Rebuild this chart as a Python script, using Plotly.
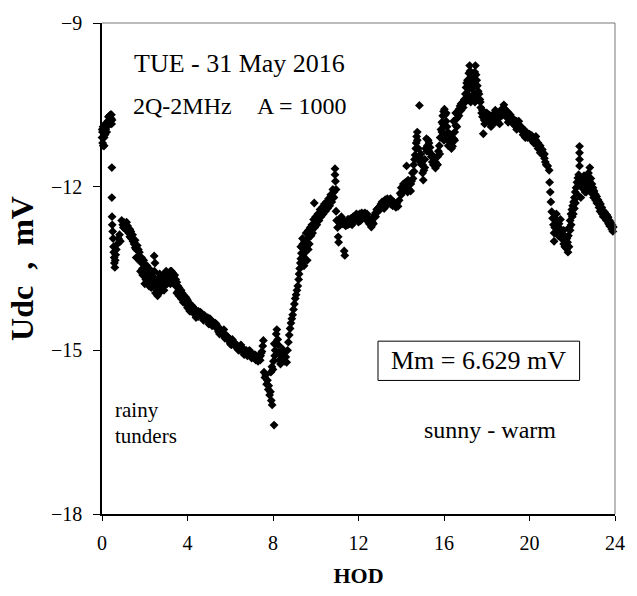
import plotly.graph_objects as go

# Udc readings (hour of day, mV), grouped by part of the day
night = [(0.02, -11.0), (0.03, -11.2), (0.05, -11.1), (0.06, -11.25), (0.08, -10.95), (0.1, -11.1),
         (0.12, -10.9), (0.14, -11.05), (0.17, -10.95), (0.2, -10.85), (0.24, -10.9), (0.27, -10.8),
         (0.3, -10.72), (0.33, -10.85), (0.36, -10.7), (0.4, -10.68), (0.43, -10.75), (0.45, -10.85),
         (0.47, -10.78), (0.46, -11.65), (0.46, -12.2), (0.47, -12.55), (0.48, -12.7), (0.5, -12.82),
         (0.52, -12.95), (0.54, -13.1), (0.55, -13.2), (0.57, -13.3), (0.58, -13.4), (0.6, -13.48),
         (0.62, -13.35), (0.64, -13.25), (0.67, -13.15), (0.72, -13.05), (0.77, -12.95), (0.82, -12.88),
         (0.86, -13.0), (0.05, -10.9), (0.1, -11.25), (0.15, -10.85), (0.22, -11.0), (0.3, -10.85),
         (0.38, -10.8), (0.44, -10.68), (0.0, -11.1), (0.01, -10.95)]

dawn = [(0.92, -12.62), (0.97, -12.7), (1.05, -12.66), (1.1, -12.78), (1.2, -12.72), (1.25, -12.85),
        (1.3, -12.78), (1.38, -12.95), (1.43, -12.88), (1.5, -13.05), (1.55, -12.98), (1.6, -13.15),
        (1.65, -13.08), (1.7, -13.28), (1.75, -13.2), (1.8, -13.38), (1.85, -13.3), (1.9, -13.5),
        (1.95, -13.42), (2.0, -13.6), (2.05, -13.7), (2.1, -13.55), (2.15, -13.75), (2.2, -13.5),
        (2.25, -13.62), (2.3, -13.72), (2.35, -13.58), (2.4, -13.65), (2.44, -13.27), (2.48, -13.4),
        (2.5, -13.78), (2.55, -13.9), (2.6, -13.7), (2.65, -13.95), (2.7, -13.8), (2.75, -13.65),
        (2.8, -13.88), (2.85, -13.7), (2.9, -13.6), (2.95, -13.78), (3.0, -13.65), (3.05, -13.58),
        (3.1, -13.72), (3.15, -13.6), (3.2, -13.55), (3.25, -13.68), (3.3, -13.58), (3.35, -13.65),
        (3.4, -13.72), (3.45, -13.82), (3.5, -13.75), (3.55, -13.92), (3.6, -13.85), (3.65, -14.0),
        (3.7, -13.9), (3.75, -14.05), (3.8, -13.98), (3.85, -14.1), (3.9, -14.02), (3.95, -14.15),
        (4.0, -14.08), (4.05, -14.2), (4.1, -14.14), (4.18, -14.25), (4.25, -14.2), (4.3, -14.3),
        (4.38, -14.26), (4.45, -14.33), (4.5, -14.28), (4.58, -14.36), (4.65, -14.32), (4.72, -14.4),
        (4.8, -14.36), (4.88, -14.44), (1.6, -13.3), (1.8, -13.55), (2.0, -13.78), (2.3, -13.85),
        (2.6, -14.0), (2.9, -13.9), (3.2, -13.78), (3.5, -13.95), (3.8, -14.12), (4.1, -14.28),
        (4.4, -14.4), (1.3, -12.92), (2.1, -13.45), (2.7, -13.6), (3.0, -13.55),
        (1.0, -12.75), (1.15, -12.65), (1.35, -12.82), (1.45, -13.0), (1.55, -13.12), (1.7, -13.15),
        (1.75, -13.35), (1.9, -13.62), (1.95, -13.35), (2.05, -13.52), (2.15, -13.6), (2.2, -13.82),
        (2.35, -13.8), (2.45, -13.55), (2.5, -13.95), (2.55, -13.75), (2.65, -13.82), (2.75, -13.92),
        (2.8, -13.72), (2.85, -13.85), (2.95, -13.62), (3.05, -13.78), (3.15, -13.7), (3.25, -13.55),
        (3.3, -13.75), (3.4, -13.62), (3.45, -13.7), (3.55, -13.82), (3.6, -14.0), (3.7, -14.05),
        (3.75, -13.95), (3.85, -14.02), (3.95, -14.05), (4.0, -14.22), (4.15, -14.28), (4.2, -14.18),
        (4.35, -14.35), (4.5, -14.38), (4.6, -14.3), (4.75, -14.45), (4.85, -14.4)]

morning = [(4.95, -14.4), (5.02, -14.47), (5.1, -14.45), (5.18, -14.52), (5.25, -14.5), (5.32, -14.58),
           (5.4, -14.56), (5.48, -14.64), (5.55, -14.62), (5.62, -14.7), (5.7, -14.68), (5.78, -14.76),
           (5.85, -14.74), (5.92, -14.82), (6.0, -14.8), (6.08, -14.87), (6.15, -14.85), (6.22, -14.92),
           (6.3, -14.9), (6.38, -14.96), (6.45, -14.94), (6.52, -15.0), (6.6, -14.97), (6.68, -15.04),
           (6.75, -15.0), (6.82, -15.06), (6.9, -15.04), (6.98, -15.1), (7.05, -15.07), (7.12, -15.13),
           (7.2, -15.1), (7.28, -15.16), (7.35, -15.12), (7.42, -15.1), (7.48, -15.02), (7.52, -14.92),
           (7.55, -14.82), (5.3, -14.5), (5.7, -14.62), (6.1, -14.8), (6.5, -14.9), (6.9, -15.0),
           (5.0, -14.52), (5.5, -14.7), (6.0, -14.88), (6.4, -15.0), (6.8, -15.1), (7.2, -15.18),
           (5.05, -14.42), (5.15, -14.55), (5.35, -14.52), (5.45, -14.66), (5.6, -14.65), (5.75, -14.78),
           (5.9, -14.76), (6.05, -14.9), (6.2, -14.86), (6.35, -14.98), (6.55, -14.95), (6.65, -15.08),
           (6.85, -15.02), (7.0, -15.14), (7.15, -15.08), (7.3, -15.2), (7.4, -15.18), (7.45, -15.05)]

dip = [(7.58, -15.4), (7.62, -15.5), (7.66, -15.45), (7.7, -15.62), (7.74, -15.55), (7.78, -15.72),
       (7.8, -15.65), (7.84, -15.82), (7.88, -15.76), (7.92, -15.92), (7.96, -16.0), (8.05, -16.37),
       (7.9, -15.4), (7.95, -15.3), (8.0, -15.35), (8.02, -15.2), (8.08, -15.1), (8.1, -15.0),
       (8.06, -14.88), (8.15, -14.7), (8.18, -14.62), (8.22, -14.8), (8.25, -14.9), (8.28, -15.05),
       (8.3, -15.18), (8.35, -15.25), (8.4, -15.1), (8.45, -14.98), (8.5, -15.05), (8.55, -15.2),
       (8.6, -15.12), (8.64, -15.22), (8.68, -15.0), (8.72, -14.85), (8.76, -14.72), (8.8, -14.6),
       (8.84, -14.5), (8.88, -14.42), (8.92, -14.35), (8.96, -14.25), (9.0, -14.15), (9.04, -14.05),
       (9.08, -13.98), (9.12, -13.9), (9.16, -13.82), (9.2, -13.7), (9.22, -13.6), (9.25, -13.5),
       (9.28, -13.4), (9.3, -13.32), (9.33, -13.22), (9.36, -13.12), (9.4, -13.05)]

late_morning = [(9.3, -13.1), (9.35, -13.4), (9.38, -12.95), (9.42, -13.25), (9.45, -13.45), (9.48, -13.0),
                (9.5, -13.2), (9.55, -12.85), (9.58, -13.1), (9.6, -13.35), (9.63, -12.95), (9.66, -12.8),
                (9.7, -13.05), (9.74, -12.75), (9.78, -12.9), (9.82, -12.7), (9.85, -12.85), (9.9, -12.6),
                (9.93, -12.3), (9.95, -12.75), (10.0, -12.55), (10.05, -12.7), (10.1, -12.5), (10.15, -12.62),
                (10.2, -12.42), (10.25, -12.55), (10.3, -12.38), (10.35, -12.5), (10.4, -12.32), (10.45, -12.45),
                (10.5, -12.28), (10.55, -12.4), (10.6, -12.22), (10.65, -12.35), (10.7, -12.15), (10.75, -12.28),
                (10.8, -12.05), (10.85, -12.2), (10.9, -11.67), (10.9, -11.78), (10.92, -11.9), (10.95, -12.05),
                (10.95, -12.45), (10.98, -12.62), (11.02, -12.75), (11.05, -12.92), (11.07, -13.02), (11.1, -12.6),
                (11.15, -12.7), (11.2, -12.55), (11.25, -12.68), (11.3, -12.62), (11.33, -13.18), (11.36, -13.26),
                (11.4, -12.72), (11.45, -12.65), (11.5, -12.7), (11.55, -12.6), (11.6, -12.68), (11.65, -12.58),
                (11.7, -12.64), (11.75, -12.55), (11.8, -12.62), (11.85, -12.55), (11.9, -12.6), (11.95, -12.52),
                (12.0, -12.58), (12.05, -12.5), (12.1, -12.56), (12.15, -12.48), (12.2, -12.55), (12.25, -12.5),
                (12.3, -12.58), (12.35, -12.52), (12.4, -12.62), (12.45, -12.58), (12.5, -12.68), (12.55, -12.62),
                (12.6, -12.74), (12.65, -12.65), (12.7, -12.58), (12.75, -12.52), (12.8, -12.48), (12.85, -12.42),
                (12.9, -12.46), (12.95, -12.38), (13.0, -12.42), (13.05, -12.32), (13.1, -12.38), (13.15, -12.28),
                (13.2, -12.33), (13.25, -12.24), (13.3, -12.3), (13.35, -12.22), (13.4, -12.28), (13.45, -12.24),
                (13.5, -12.32), (13.55, -12.26), (13.6, -12.35), (13.65, -12.28),
                (11.2, -12.65), (11.5, -12.6), (11.7, -12.7), (11.9, -12.5), (12.1, -12.62), (12.3, -12.48),
                (12.5, -12.58), (12.6, -12.65), (12.7, -12.68), (12.9, -12.4), (13.1, -12.28), (13.3, -12.35),
                (13.5, -12.22), (13.6, -12.28), (12.0, -12.65), (12.4, -12.5), (12.8, -12.55), (13.2, -12.4),
                (9.45, -13.3), (9.55, -13.05), (9.65, -13.15), (9.7, -12.85), (9.8, -12.8), (9.9, -12.75),
                (10.0, -12.65), (10.1, -12.6), (10.2, -12.55), (10.3, -12.45), (10.4, -12.42), (10.5, -12.38),
                (10.6, -12.32), (10.7, -12.25), (10.8, -12.18), (10.85, -12.1)]

noon = [(13.7, -12.32), (13.75, -12.38), (13.8, -12.3), (13.85, -12.36), (13.9, -12.25), (13.95, -12.12),
        (14.0, -12.02), (14.05, -12.1), (14.1, -11.95), (14.15, -12.05), (14.2, -11.92), (14.25, -11.62),
        (14.28, -12.0), (14.32, -11.88), (14.36, -12.05), (14.4, -11.95), (14.44, -12.08), (14.48, -11.9),
        (14.52, -11.75), (14.55, -11.85), (14.58, -11.6), (14.62, -11.5), (14.65, -11.42), (14.68, -11.3),
        (14.7, -11.2), (14.72, -11.08), (14.75, -11.0), (14.85, -10.51), (14.8, -11.3), (14.85, -11.45),
        (14.88, -11.55), (14.92, -11.4), (14.95, -11.6), (15.0, -11.75), (15.03, -11.88), (15.06, -11.7),
        (15.1, -11.5), (15.14, -11.3), (15.18, -11.12), (15.22, -11.25), (15.26, -11.15), (15.3, -11.35),
        (15.35, -11.28), (15.4, -11.45), (15.45, -11.55), (15.5, -11.6), (15.55, -11.5), (15.6, -11.66),
        (15.65, -11.58), (15.7, -11.45), (15.74, -11.35), (15.78, -11.25), (15.82, -11.1), (15.86, -10.95),
        (15.9, -10.82), (15.94, -10.7), (15.98, -10.62), (16.02, -10.58), (16.06, -10.68), (16.1, -10.8),
        (16.14, -10.9), (16.18, -11.0), (16.22, -11.1), (16.26, -11.18), (16.3, -11.24), (16.35, -11.2),
        (16.4, -11.26), (16.45, -11.12), (16.5, -11.0), (16.55, -10.88), (16.6, -10.75), (16.65, -10.66),
        (16.7, -10.58), (16.75, -10.52), (16.8, -10.48), (16.85, -10.55), (16.9, -10.45), (16.95, -10.4),
        (17.0, -10.3), (17.03, -10.18), (17.06, -10.1), (17.1, -10.05), (17.13, -10.15), (17.16, -9.92),
        (17.2, -9.78), (17.22, -9.88), (17.25, -10.0), (17.28, -10.12), (17.32, -10.2), (17.36, -10.05),
        (17.4, -10.1), (17.44, -9.9), (17.47, -9.78), (17.5, -9.95), (17.53, -10.05), (17.56, -10.15),
        (17.6, -10.25), (17.64, -10.3), (17.68, -10.4), (17.72, -10.55), (17.76, -10.65), (17.8, -10.72),
        (17.84, -11.03), (17.1, -10.3), (17.2, -10.2), (17.3, -10.35), (17.4, -10.3), (17.5, -10.3),
        (17.35, -10.4), (17.15, -10.4), (17.45, -10.45), (17.55, -10.38), (17.25, -10.45), (15.9, -11.0),
        (16.0, -10.9), (16.1, -11.05), (16.2, -11.25), (16.3, -11.05), (16.45, -10.8), (16.55, -10.65),
        (16.0, -11.15), (14.0, -12.15), (14.1, -12.08), (14.3, -12.1), (14.45, -11.95), (14.6, -11.72),
        (14.75, -11.15), (14.9, -11.48), (15.0, -11.6), (15.1, -11.65), (15.2, -11.35), (15.3, -11.2),
        (15.45, -11.42), (15.6, -11.55), (15.7, -11.6), (15.8, -11.4), (15.95, -10.85), (16.1, -10.65),
        (16.25, -11.05), (16.35, -11.3), (16.5, -11.15), (16.6, -10.9), (16.7, -10.7), (16.8, -10.6),
        (16.9, -10.55), (17.0, -10.45), (17.6, -10.4), (17.7, -10.45), (17.8, -10.6)]

afternoon = [(17.88, -10.78), (17.92, -10.7), (17.96, -10.8), (18.0, -10.65), (18.05, -10.75), (18.1, -10.68),
             (18.15, -10.8), (18.2, -10.7), (18.25, -10.78), (18.3, -10.68), (18.35, -10.75), (18.4, -10.82),
             (18.45, -10.72), (18.5, -10.8), (18.55, -10.74), (18.6, -10.68), (18.65, -10.62), (18.7, -10.7),
             (18.75, -10.6), (18.8, -10.56), (18.85, -10.65), (18.9, -10.6), (18.95, -10.7), (19.0, -10.64),
             (19.05, -10.72), (19.1, -10.68), (19.15, -10.78), (19.2, -10.74), (19.25, -10.82), (19.3, -10.78),
             (19.35, -10.85), (19.4, -10.8), (19.45, -10.9), (19.5, -10.86), (19.55, -10.94), (19.6, -10.9),
             (19.65, -10.98), (19.7, -10.94), (19.75, -11.02), (19.8, -10.98), (19.85, -11.06), (19.9, -11.02),
             (19.95, -11.08), (20.0, -11.04), (20.05, -11.1), (20.1, -11.06), (20.15, -11.14), (20.2, -11.1),
             (20.25, -11.18), (20.3, -11.15), (20.35, -11.24), (20.4, -11.2), (20.45, -11.28), (20.5, -11.25),
             (20.55, -11.34), (20.6, -11.32), (20.65, -11.42), (20.7, -11.48), (20.74, -11.55), (20.78, -11.6),
             (18.2, -10.9), (18.6, -10.85), (19.0, -10.82), (19.4, -10.95), (19.8, -11.1), (20.2, -11.2),
             (20.5, -11.38), (18.4, -10.6), (18.8, -10.5), (17.9, -10.85), (18.1, -10.82), (18.3, -10.8),
             (18.5, -10.68), (18.7, -10.58), (18.9, -10.72), (19.1, -10.8), (19.3, -10.88), (19.5, -10.8),
             (19.7, -11.05), (19.9, -11.1), (20.1, -11.15), (20.3, -11.08), (20.4, -11.3), (20.6, -11.4),
             (20.7, -11.4)]

evening = [(20.85, -11.62), (20.92, -11.7), (20.94, -11.92), (20.97, -12.1), (21.0, -12.28), (21.04, -12.46),
           (21.08, -12.58), (21.12, -12.7), (21.15, -12.85), (21.15, -13.0), (21.18, -12.75), (21.22, -12.6),
           (21.26, -12.5), (21.3, -12.62), (21.34, -12.75), (21.38, -12.68), (21.42, -12.85), (21.46, -12.78),
           (21.5, -12.95), (21.55, -12.88), (21.6, -13.05), (21.65, -12.98), (21.7, -13.12), (21.75, -13.14),
           (21.78, -13.02), (21.82, -12.9), (21.86, -12.75), (21.9, -12.62), (21.94, -12.5), (21.98, -12.42),
           (22.02, -12.35), (22.06, -12.28), (22.1, -12.2), (22.14, -12.1), (22.18, -12.02), (22.22, -11.92),
           (22.26, -11.84), (22.3, -11.78), (22.34, -11.26), (22.34, -11.38), (22.34, -11.5), (22.34, -11.62),
           (22.38, -11.88), (22.42, -11.96), (22.46, -12.02), (22.5, -11.98), (22.55, -12.05), (22.6, -11.96),
           (22.65, -11.9), (22.7, -11.82), (22.76, -11.75), (22.82, -11.65), (22.87, -11.85), (22.92, -11.95),
           (22.97, -12.02), (23.02, -12.08), (23.08, -12.14), (23.14, -12.18), (23.2, -12.24), (23.26, -12.28),
           (23.32, -12.32), (23.38, -12.38), (23.44, -12.44), (23.5, -12.46), (23.56, -12.5), (23.62, -12.52),
           (23.68, -12.56), (23.74, -12.62), (23.8, -12.66), (23.86, -12.7), (23.92, -12.74),
           (21.3, -12.85), (21.45, -12.6), (21.6, -12.8), (21.7, -12.92), (21.8, -13.2), (21.85, -13.1),
           (21.95, -12.7), (22.05, -12.5), (22.15, -12.3), (22.25, -12.15), (22.4, -12.2), (22.55, -11.8),
           (22.65, -12.1), (22.75, -12.0), (22.85, -12.1), (23.0, -12.2), (23.15, -12.3), (23.3, -12.45),
           (23.45, -12.55), (23.6, -12.62), (23.75, -12.72), (23.9, -12.82),
           (21.2, -12.7), (21.35, -12.9), (21.5, -12.8), (21.65, -13.1), (21.75, -12.95), (21.9, -12.8),
           (22.0, -12.55), (22.1, -12.4), (22.2, -12.2), (22.3, -11.95), (22.45, -11.85), (22.6, -12.1),
           (22.7, -11.95), (22.8, -11.9), (22.95, -12.12), (23.1, -12.25), (23.25, -12.38), (23.4, -12.5),
           (23.55, -12.58), (23.7, -12.68), (23.85, -12.78)]

x_ticks = [0, 4, 8, 12, 16, 20, 24]
y_ticks = [-18, -15, -12, -9]

readings = night + dawn + morning + dip + late_morning + noon + afternoon + evening
hod = [p[0] for p in readings]
udc = [p[1] for p in readings]

SERIF = "Liberation Serif, Times New Roman, serif"

fig = go.Figure()
fig.add_trace(go.Scatter(
    x=hod, y=udc, mode="markers", cliponaxis=False,
    marker=dict(symbol="diamond", size=6.8, color="black", line=dict(width=0)),
    showlegend=False,
))

fig.update_layout(
    width=637, height=596,
    margin=dict(l=102, r=13, t=14, b=79),
    paper_bgcolor="white", plot_bgcolor="white",
    font=dict(family=SERIF, color="black"),
    xaxis=dict(
        range=[0, 24], tickvals=x_ticks, ticks="outside", ticklen=5, tickwidth=1.2,
        tickcolor="black", showline=True, linecolor="black", linewidth=1.5,
        showgrid=False, zeroline=False, tickfont=dict(family=SERIF, size=20),
        ticklabelstandoff=5,
        title=dict(text="<b>HOD</b>", font=dict(family=SERIF, size=22), standoff=15),
    ),
    yaxis=dict(
        range=[-18, -9], tickvals=y_ticks, ticks="outside", ticklen=7, tickwidth=1.2,
        tickcolor="black", showline=True, linecolor="black", linewidth=1.5,
        showgrid=False, zeroline=False, tickfont=dict(family=SERIF, size=20),
        ticklabelstandoff=7,
        title=dict(text="<b>Udc\u00a0\u00a0,\u00a0\u00a0mV</b>", font=dict(family=SERIF, size=32), standoff=8),
    ),
)

# thin grey frame on the top and right of the plot area
fig.add_shape(type="line", xref="paper", yref="paper", x0=0, x1=1, y0=1, y1=1,
              line=dict(color="#777777", width=1))
fig.add_shape(type="line", xref="paper", yref="paper", x0=1, x1=1, y0=0, y1=1,
              line=dict(color="#777777", width=1))

# boxed mean-magnitude label
fig.add_shape(type="rect", xref="paper", yref="paper", x0=0.538, x1=0.931, y0=0.272, y1=0.352,
              line=dict(color="black", width=1), fillcolor="white")

def note(text, x, y, size, xanchor="left"):
    fig.add_annotation(text=text, xref="paper", yref="paper", x=x, y=y,
                       xanchor=xanchor, yanchor="middle", showarrow=False,
                       font=dict(family=SERIF, size=size, color="black"))

note("TUE - 31 May 2016", 0.0594, 0.918, 26)
note("2Q-2MHz", 0.0575, 0.831, 24)
note("A = 1000", 0.299, 0.831, 24)
note("Mm = 6.629 mV", 0.733, 0.312, 26, xanchor="center")
note("rainy", 0.021, 0.211, 21)
note("tunders", 0.021, 0.159, 21)
note("sunny - warm", 0.6245, 0.171, 24)

fig.write_html("out.html")
